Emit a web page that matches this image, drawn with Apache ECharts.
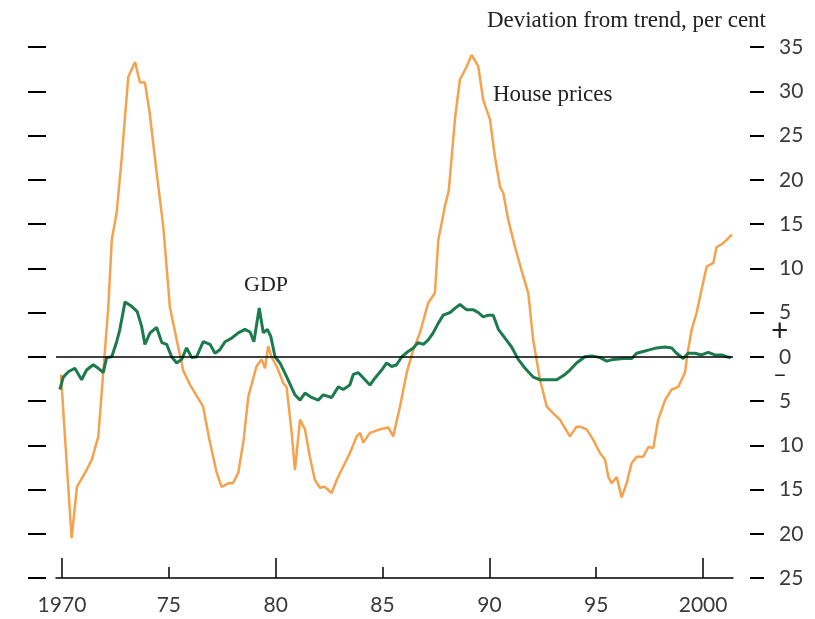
<!DOCTYPE html>
<html>
<head>
<meta charset="utf-8">
<script src="https://cdn.jsdelivr.net/npm/echarts@6/dist/echarts.min.js"></script>
<style>
  html, body { margin: 0; padding: 0; background: #fff; }
  #chart { width: 815px; height: 619px; }
</style>
</head>
<body>
<div id="chart"></div>
<script>
// house prices, deviation from trend (per cent) - [year, value]
var housePrices = [
  [1969.95, -2.0], [1970.45, -20.5], [1970.7, -14.7], [1971.15, -12.8], [1971.4, -11.6],
  [1971.7, -9.0], [1971.93, -1.8], [1972.17, 5.7], [1972.33, 13.2], [1972.56, 16.3],
  [1972.8, 22.6], [1973.1, 31.6], [1973.42, 33.3], [1973.65, 31.0], [1973.88, 31.0],
  [1974.1, 27.6], [1974.43, 20.8], [1974.74, 14.7], [1975.05, 5.6], [1975.37, 1.9],
  [1975.68, -1.6], [1976.0, -3.2], [1976.6, -5.6], [1976.9, -9.4], [1977.24, -13.1],
  [1977.47, -14.7], [1977.78, -14.3], [1978.0, -14.3], [1978.25, -13.1], [1978.5, -9.4],
  [1978.72, -4.5], [1979.1, -1.1], [1979.34, -0.3], [1979.5, -1.3], [1979.65, 1.2],
  [1979.8, 0.0], [1980.05, -1.1], [1980.36, -3.0], [1980.51, -3.4], [1980.75, -8.6],
  [1980.9, -12.8], [1981.14, -7.1], [1981.37, -8.2], [1981.6, -11.3], [1981.83, -13.9],
  [1982.07, -14.8], [1982.3, -14.7], [1982.62, -15.4], [1982.86, -13.9], [1983.16, -12.4],
  [1983.47, -10.9], [1983.79, -9.0], [1983.95, -8.6], [1984.1, -9.7], [1984.41, -8.6],
  [1984.88, -8.2], [1985.27, -8.0], [1985.5, -9.0], [1985.82, -5.6], [1986.13, -1.8],
  [1986.44, 0.8], [1986.75, 2.7], [1987.14, 6.1], [1987.45, 7.2], [1987.61, 13.2],
  [1987.92, 17.0], [1988.1, 18.8], [1988.4, 27.1], [1988.62, 31.3], [1988.94, 32.8],
  [1989.17, 34.1], [1989.48, 32.8], [1989.71, 29.0], [1990.03, 26.8], [1990.26, 22.6],
  [1990.5, 19.2], [1990.65, 18.5], [1990.88, 15.5], [1991.2, 12.4], [1991.5, 9.8],
  [1991.82, 7.2], [1992.05, 1.9], [1992.37, -2.6], [1992.68, -5.6], [1992.99, -6.4],
  [1993.3, -7.1], [1993.77, -9.0], [1994.08, -7.9], [1994.24, -7.9], [1994.55, -8.2],
  [1994.86, -9.4], [1995.18, -10.9], [1995.41, -11.6], [1995.57, -13.6], [1995.72, -14.3],
  [1995.96, -13.6], [1996.19, -15.9], [1996.42, -14.3], [1996.66, -12.0], [1996.89, -11.3],
  [1997.2, -11.3], [1997.44, -10.2], [1997.67, -10.3], [1997.9, -7.1], [1998.22, -4.9],
  [1998.53, -3.7], [1998.84, -3.4], [1999.15, -1.8], [1999.3, 0.8], [1999.47, 3.1],
  [1999.7, 5.0], [1999.93, 7.6], [2000.17, 10.2], [2000.48, 10.6], [2000.63, 12.4],
  [2000.87, 12.7], [2001.1, 13.2], [2001.34, 13.8]
];

// GDP, deviation from trend (per cent) - [year, value]
var gdp = [
  [1969.9, -3.7], [1970.06, -2.3], [1970.3, -1.7], [1970.6, -1.3], [1970.92, -2.6],
  [1971.15, -1.5], [1971.46, -0.9], [1971.7, -1.3], [1971.93, -1.8], [1972.09, -0.1],
  [1972.33, 0.0], [1972.56, 1.7], [1972.71, 3.1], [1972.95, 6.2], [1973.26, 5.7],
  [1973.52, 5.1], [1973.73, 3.4], [1973.88, 1.4], [1974.12, 2.7], [1974.43, 3.3],
  [1974.67, 1.6], [1974.9, 1.4], [1975.13, 0.0], [1975.37, -0.7], [1975.6, -0.3],
  [1975.83, 1.0], [1976.07, -0.1], [1976.3, 0.0], [1976.61, 1.7], [1976.93, 1.4],
  [1977.16, 0.4], [1977.39, 0.8], [1977.63, 1.7], [1977.94, 2.1], [1978.25, 2.7],
  [1978.56, 3.1], [1978.8, 2.8], [1978.98, 1.7], [1979.23, 5.5], [1979.42, 2.7],
  [1979.61, 3.1], [1979.77, 2.3], [1979.97, 0.0], [1980.2, -0.7], [1980.5, -2.2],
  [1980.9, -4.3], [1981.14, -4.9], [1981.37, -4.1], [1981.68, -4.6], [1981.99, -4.9],
  [1982.23, -4.3], [1982.62, -4.6], [1982.93, -3.4], [1983.16, -3.7], [1983.47, -3.2],
  [1983.63, -2.0], [1983.87, -1.8], [1984.18, -2.6], [1984.41, -3.2], [1984.65, -2.4],
  [1984.96, -1.5], [1985.19, -0.7], [1985.43, -1.1], [1985.66, -0.9], [1985.9, 0.0],
  [1986.2, 0.6], [1986.44, 1.0], [1986.67, 1.6], [1986.91, 1.4], [1987.14, 1.9],
  [1987.37, 2.7], [1987.61, 3.8], [1987.84, 4.7], [1988.16, 5.0], [1988.4, 5.5],
  [1988.62, 5.9], [1988.94, 5.3], [1989.25, 5.3], [1989.48, 5.0], [1989.71, 4.5],
  [1989.95, 4.7], [1990.18, 4.7], [1990.42, 3.1], [1990.73, 2.1], [1991.04, 1.1],
  [1991.35, -0.3], [1991.67, -1.3], [1992.05, -2.3], [1992.37, -2.6], [1992.84, -2.6],
  [1993.15, -2.6], [1993.54, -2.0], [1993.77, -1.5], [1994.08, -0.7], [1994.47, 0.0],
  [1994.8, 0.1], [1995.18, -0.1], [1995.49, -0.5], [1995.8, -0.3], [1996.27, -0.2],
  [1996.66, -0.2], [1996.89, 0.4], [1997.2, 0.6], [1997.52, 0.8], [1997.83, 1.0],
  [1998.22, 1.1], [1998.53, 1.0], [1998.76, 0.4], [1999.07, -0.2], [1999.3, 0.4],
  [1999.62, 0.4], [1999.93, 0.2], [2000.24, 0.5], [2000.55, 0.2], [2000.87, 0.2],
  [2001.1, 0.0], [2001.3, -0.1]
];

var majorYears = [1970, 1980, 1990, 2000];
var minorYears = [1975, 1985, 1995];
var labelYears = [1970, 1975, 1980, 1985, 1990, 1995, 2000];
var yearLabels = {1970: '1970', 1975: '75', 1980: '80', 1985: '85', 1990: '90', 1995: '95', 2000: '2000'};

var chart = echarts.init(document.getElementById('chart'));

var labelFont = 'Lato';
var serifFont = '"Liberation Serif", "DejaVu Serif", serif';

var option = {
  animation: false,
  backgroundColor: '#fff',
  title: {
    text: 'Deviation from trend, per cent',
    right: 44,
    top: 4,
    textStyle: {fontFamily: serifFont, fontWeight: 'normal', fontSize: 23, color: '#222'}
  },
  grid: {left: 56, right: 82, top: 47, bottom: 41},
  xAxis: [{
    type: 'value',
    min: 1969.72,
    max: 2001.4,
    position: 'bottom',
    splitLine: {show: false},
    axisLine: {show: true, onZero: false, lineStyle: {color: '#000', width: 1.5}},
    axisTick: {show: true, inside: true, length: 20, customValues: majorYears, lineStyle: {color: '#000', width: 1.5}},
    axisLabel: {
      customValues: labelYears,
      margin: 17,
      fontFamily: labelFont,
      fontSize: 21,
      color: '#3a3a3a',
      formatter: function (v) { return yearLabels[v] || ''; }
    }
  }, {
    type: 'value',
    min: 1969.72,
    max: 2001.4,
    position: 'bottom',
    splitLine: {show: false},
    axisLine: {show: false, onZero: false},
    axisTick: {show: true, inside: true, length: 11, customValues: minorYears, lineStyle: {color: '#000', width: 1.5}},
    axisLabel: {show: false}
  }],
  yAxis: [{
    type: 'value',
    min: -25,
    max: 35,
    interval: 5,
    position: 'left',
    offset: 10,
    splitLine: {show: false},
    axisLine: {show: false},
    axisTick: {show: true, length: 18, lineStyle: {color: '#000', width: 2}},
    axisLabel: {show: false}
  }, {
    type: 'value',
    min: -25,
    max: 35,
    interval: 5,
    position: 'right',
    offset: 17,
    splitLine: {show: false},
    axisLine: {show: false},
    axisTick: {show: true, length: 14, lineStyle: {color: '#000', width: 2}},
    axisLabel: {
      margin: 29,
      fontFamily: labelFont,
      fontSize: 21,
      color: '#3a3a3a',
      formatter: function (v) { return String(Math.abs(v)); }
    }
  }],
  series: [{
    name: 'House prices',
    type: 'line',
    data: housePrices,
    showSymbol: false,
    lineStyle: {color: '#F5A24E', width: 2.5},
    z: 2
  }, {
    name: 'GDP',
    type: 'line',
    data: gdp,
    showSymbol: false,
    lineStyle: {color: '#1B7A4E', width: 3},
    z: 3,
    markLine: {
      silent: true,
      symbol: 'none',
      label: {show: false},
      lineStyle: {color: '#000', width: 1.5, type: 'solid'},
      data: [{yAxis: 0}]
    }
  }],
  graphic: [
    {type: 'text', left: 493, top: 83, style: {text: 'House prices', font: '23px ' + serifFont, fill: '#222'}},
    {type: 'text', left: 244, top: 274, style: {text: 'GDP', font: '22px ' + serifFont, fill: '#222'}},
    {type: 'text', left: 771, top: 316, style: {text: '+', font: '30px ' + labelFont, fill: '#222'}},
    {type: 'text', left: 773, top: 362, style: {text: '\u2013', font: '24px ' + labelFont, fill: '#222'}}
  ]
};

chart.setOption(option);
</script>
</body>
</html>
